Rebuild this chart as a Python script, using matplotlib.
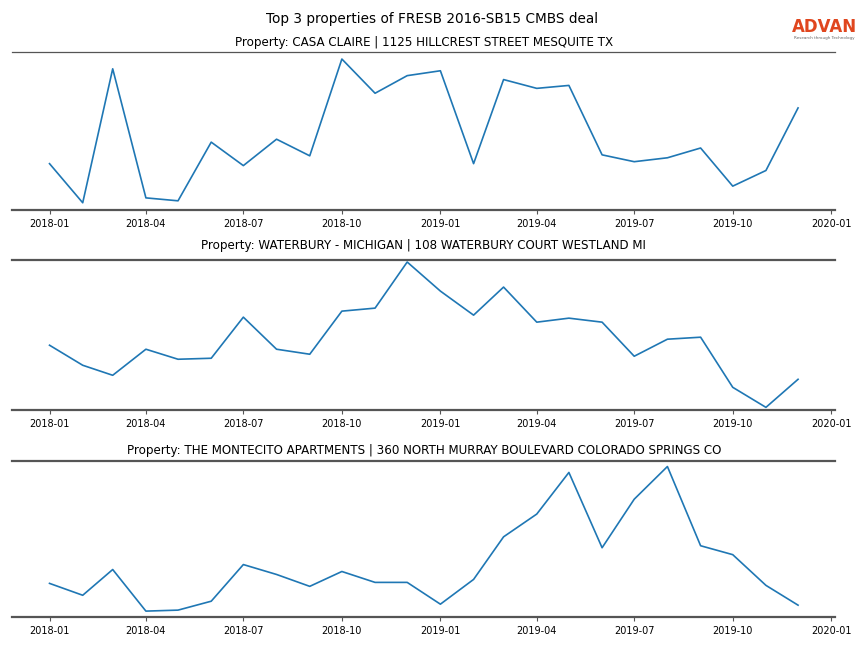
import matplotlib
matplotlib.use("Agg")
import matplotlib.pyplot as plt
import pandas as pd

months = pd.date_range("2018-01-01", "2019-12-01", freq="MS")

title_main = "Top 3 properties of FRESB 2016-SB15 CMBS deal"
titles = [
    "Property: CASA CLAIRE | 1125 HILLCREST STREET MESQUITE TX",
    "Property: WATERBURY - MICHIGAN | 108 WATERBURY COURT WESTLAND MI",
    "Property: THE MONTECITO APARTMENTS | 360 NORTH MURRAY BOULEVARD COLORADO SPRINGS CO",
]

casa_claire = [45, 5, 142, 10, 7, 67, 43, 70, 53, 152, 117, 135, 140, 45, 131,
               122, 125, 54, 47, 51, 61, 22, 38, 102]
waterbury = [63, 43, 33, 59, 49, 50, 91, 59, 54, 97, 100, 146, 117, 93, 121,
             86, 90, 86, 52, 69, 71, 21, 1, 29]
montecito = [32, 20, 46, 4, 5, 14, 51, 41, 29, 44, 33, 33, 11, 36, 79,
             102, 144, 68, 117, 150, 70, 61, 30, 10]
series = [casa_claire, waterbury, montecito]

tick_dates = pd.date_range("2018-01-01", "2020-01-01", freq="3MS")
tick_labels = [d.strftime("%Y-%m") for d in tick_dates]

fig = plt.figure(figsize=(8.64, 6.48), dpi=100)
fig.suptitle(title_main, fontsize=9.8, y=0.982)

axes_rects = [
    (0.014, 0.676, 0.953, 0.244),
    (0.014, 0.368, 0.953, 0.231),
    (0.014, 0.048, 0.953, 0.241),
]
y_margins = [0.05, 0.015, 0.04]
title_pads = [4, 8, 5]

for i, (rect, vals, t, ym, tp) in enumerate(zip(axes_rects, series, titles, y_margins, title_pads)):
    ax = fig.add_axes(rect)
    ax.plot(months, vals, color="#1f77b4", linewidth=1.2)
    ax.margins(y=ym)
    ax.set_title(t, fontsize=8.6, pad=tp)
    ax.set_yticks([])
    ax.set_xticks(tick_dates)
    ax.set_xticklabels(tick_labels, fontsize=7)
    ax.tick_params(axis="x", length=3, width=0.8, color="#555555")
    for s in ("left", "right"):
        ax.spines[s].set_visible(False)
    for s in ("top", "bottom"):
        ax.spines[s].set_color("#555555")
        ax.spines[s].set_linewidth(1.6)
    if i == 0:
        ax.spines["top"].set_linewidth(0.9)

fig.text(0.954, 0.958, "ADVAN", color="#E0461E", fontsize=12, fontweight="bold",
         ha="center", va="center")
fig.text(0.954, 0.941, "Research through Technology", color="#666666", fontsize=3,
         ha="center", va="center")

fig.savefig("out.png", dpi=100)
